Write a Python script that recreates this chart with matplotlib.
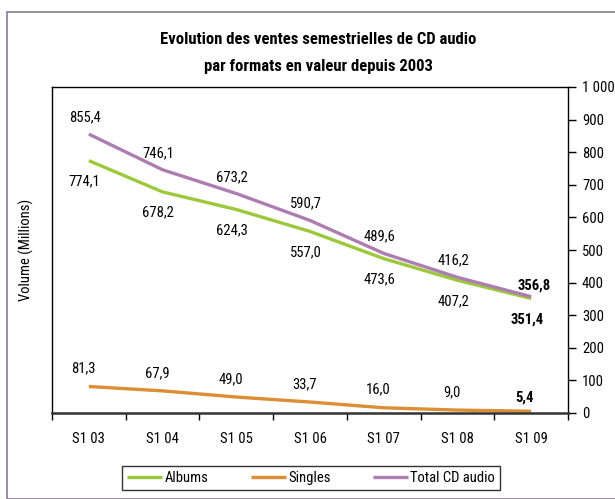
import numpy
from matplotlib import pyplot as plt
import matplotlib
from matplotlib.patches import Rectangle

# condensed family first, plain fallbacks after
plt.rcParams['font.family'] = ['Roboto Condensed', 'Liberation Sans Narrow', 'DejaVu Sans']

# data
semesters = ['S1 03', 'S1 04', 'S1 05', 'S1 06', 'S1 07', 'S1 08', 'S1 09']
albums = [774.1, 678.2, 624.3, 557.0, 473.6, 407.2, 351.4]
singles = [81.3, 67.9, 49.0, 33.7, 16.0, 9.0, 5.4]
total = [855.4, 746.1, 673.2, 590.7, 489.6, 416.2, 356.8]
yticks = [0, 100, 200, 300, 400, 500, 600, 700, 800, 900, 1000]

c_alb = '#9dc83c'
c_sin = '#dc8e34'
c_tot = '#ad7db2'

def fmt(v):
	return ('%.1f' % v).replace('.', ',')

fig = plt.figure(figsize=(6.15, 4.99), dpi=100)
W, H = 615., 499.
ax = fig.add_axes([52/W, 1-413/H, (568-52)/W, (413-87)/H])

x = numpy.arange(len(semesters))
art1, = ax.plot(x, albums, color=c_alb, lw=2.4, label='Albums', solid_capstyle='butt')
art2, = ax.plot(x, singles, color=c_sin, lw=2.4, label='Singles', solid_capstyle='butt')
art3, = ax.plot(x, total, color=c_tot, lw=2.4, label='Total CD audio', solid_capstyle='butt')

last = len(semesters)-1
for i in range(len(semesters)):
	if i < last:
		ax.annotate(fmt(total[i]), (x[i], total[i]), xytext=(-3, 12), textcoords='offset points',
			ha='center', va='center', fontsize=10.5)
		ax.annotate(fmt(albums[i]), (x[i], albums[i]), xytext=(-3, -15), textcoords='offset points',
			ha='center', va='center', fontsize=10.5)
		ax.annotate(fmt(singles[i]), (x[i], singles[i]), xytext=(-4, 13), textcoords='offset points',
			ha='center', va='center', fontsize=10.5)
	else:
		ax.annotate(fmt(total[i]), (x[i], total[i]), xytext=(2, 8), textcoords='offset points',
			ha='center', va='center', fontsize=10.5, fontweight='bold')
		ax.annotate(fmt(albums[i]), (x[i], albums[i]), xytext=(-3, -15), textcoords='offset points',
			ha='center', va='center', fontsize=10.5, fontweight='bold')
		ax.annotate(fmt(singles[i]), (x[i], singles[i]), xytext=(-5, 10), textcoords='offset points',
			ha='center', va='center', fontsize=10.5, fontweight='bold')

ax.set_xlim(-0.5, len(semesters)-0.5)
ax.set_ylim(0, 1000)
ax.set_xticks(x)
ax.set_xticklabels(semesters, fontsize=10.5)
ax.set_xticks(numpy.arange(-0.5, len(semesters)), minor=True)
ax.tick_params(axis='x', which='major', length=0, pad=14)
ax.tick_params(axis='x', which='minor', length=5, width=1, direction='out')

ax.yaxis.tick_right()
ax.set_yticks(yticks)
ax.set_yticklabels(['1 000' if v == 1000 else str(v) for v in yticks], fontsize=10.5)
ax.tick_params(axis='y', length=6, width=1, direction='out', pad=4)

for s in ['top', 'left', 'right']:
	ax.spines[s].set_linewidth(1)
ax.spines['bottom'].set_linewidth(1.8)
ax.spines['bottom'].set_color('#333333')

fig.text(26/W, 1-250/H, 'Volume (Millions)', rotation=90, ha='center', va='center', fontsize=10.5)
fig.text(318/W, 1-40/H, 'Evolution des ventes semestrielles de CD audio', ha='center', va='center',
	fontsize=12, fontweight='bold')
fig.text(318/W, 1-67/H, 'par formats en valeur depuis 2003', ha='center', va='center',
	fontsize=12, fontweight='bold')

leg = fig.legend(handles=[art1, art2, art3], loc='center', bbox_to_anchor=(311/W, 1-478/H), ncol=3,
	frameon=True, fancybox=False, edgecolor='black', fontsize=10.5, handlelength=2.4,
	handletextpad=0.15, columnspacing=2.9, borderpad=0.35)
leg.get_frame().set_linewidth(1)

# outer border
fig.patches.append(Rectangle((7/W, 0), 1, 1-12/H, transform=fig.transFigure, fill=False,
	edgecolor='#8a7a9a', lw=1.2))

plt.savefig('out.png', dpi=100)
